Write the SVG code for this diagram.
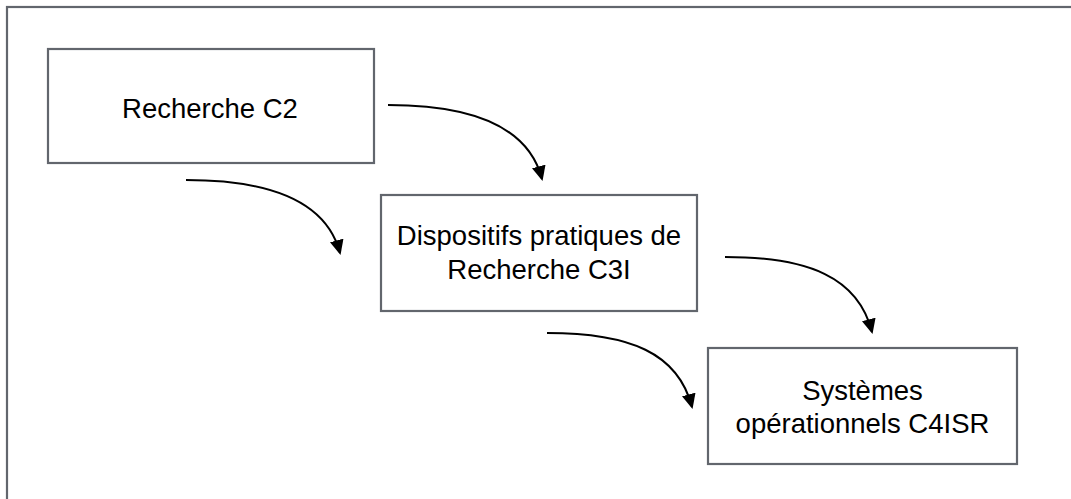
<svg xmlns="http://www.w3.org/2000/svg" width="1071" height="499" viewBox="0 0 1071 499">
  <style>
    .frame { fill: #ffffff; stroke: #62666d; stroke-width: 2.2; }
    .box { fill: #ffffff; stroke: #62666d; stroke-width: 2.2; }
    .lbl { font-family: "Liberation Sans", Arial, sans-serif; font-size: 27.5px; fill: #000000; text-anchor: middle; }
    .conn { fill: none; stroke: #000000; stroke-width: 2; marker-end: url(#arrow); }
  </style>
  <defs>
    <marker id="arrow" markerUnits="userSpaceOnUse" viewBox="0 0 15 14" refX="13" refY="7" markerWidth="15" markerHeight="14" orient="auto">
      <path d="M0,0 L15,7 L0,14 z" fill="#000000"/>
    </marker>
  </defs>
  <rect width="1071" height="499" fill="#ffffff"/>
  <rect class="frame" x="7" y="7" width="1080" height="510"/>

  <g id="node-c2">
    <rect class="box" x="48" y="49" width="326" height="114"/>
    <text class="lbl" x="210" y="118">Recherche C2</text>
  </g>
  <g id="node-c3i">
    <rect class="box" x="381" y="195" width="316" height="116"/>
    <text class="lbl" x="539" y="245">Dispositifs pratiques de</text>
    <text class="lbl" x="539" y="279">Recherche C3I</text>
  </g>
  <g id="node-c4isr">
    <rect class="box" x="708" y="348" width="309" height="116"/>
    <text class="lbl" x="862.5" y="400">Systèmes</text>
    <text class="lbl" x="862.5" y="433">opérationnels C4ISR</text>
  </g>

  <g id="connectors">
    <path class="conn" d="M388,105 C470,105 528,125 542,179"/>
    <path class="conn" d="M186,180 C268,180 326,200 340,253"/>
    <path class="conn" d="M725,257 C808,257 858,277 872,332"/>
    <path class="conn" d="M547,333 C630,333 678,353 692,407"/>
  </g>
</svg>
